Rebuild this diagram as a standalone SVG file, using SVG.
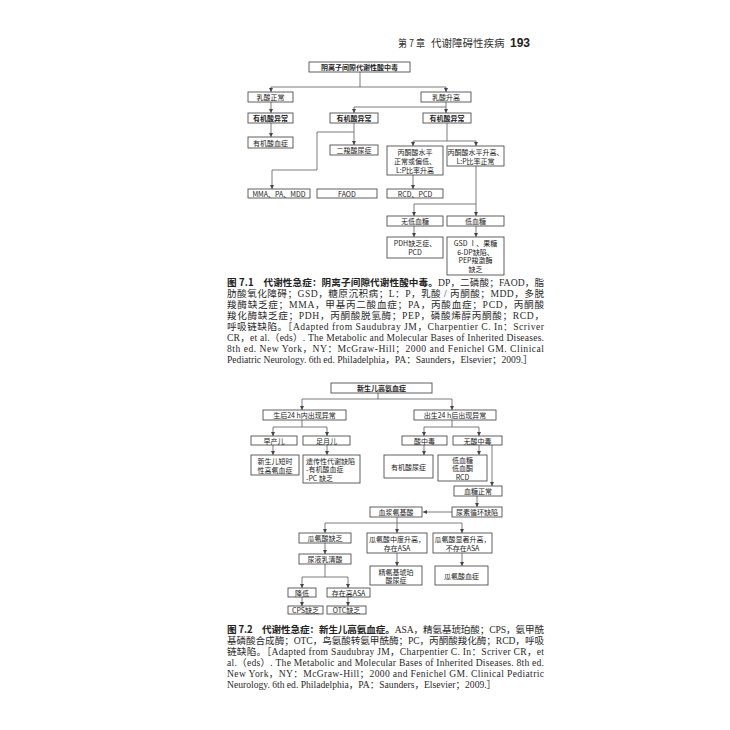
<svg xmlns="http://www.w3.org/2000/svg" width="730" height="730" viewBox="0 0 730 730">
<defs>
<marker id="ah" markerUnits="userSpaceOnUse" markerWidth="4" markerHeight="4" refX="4" refY="2" orient="auto">
<path d="M0,0 L4,2 L0,4 z" fill="#444"/>
</marker>
<style>
.box{fill:#fff;stroke:#444;stroke-width:0.85}
.ln{fill:none;stroke:#5a5a5a;stroke-width:0.8}
.ar{fill:none;stroke:#5a5a5a;stroke-width:0.8;marker-end:url(#ah)}
.t{font-family:"Noto Sans CJK SC",sans-serif;font-size:7px;fill:#222;text-anchor:middle;dominant-baseline:central}
.tb{font-weight:bold}
.tl{text-anchor:start}
.cap{font-family:"Liberation Serif","Noto Sans CJK SC",serif;font-size:9.6px;fill:#2a2a2a}
.capb{font-family:"Noto Sans CJK SC",sans-serif;font-weight:bold;fill:#222}
.hd{font-family:"Noto Sans CJK SC",sans-serif;font-size:10.5px;fill:#333}
</style>
</defs>
<rect width="730" height="730" fill="#fff"/>

<g id="header">
<text class="hd" x="398" y="47" textLength="27" lengthAdjust="spacingAndGlyphs">第 7 章</text>
<text class="hd" x="431" y="47">代谢障碍性疾病</text>
<text x="510" y="47" font-family="Liberation Sans,sans-serif" font-weight="bold" font-size="12" fill="#222">193</text>
</g>

<g id="connectors">
<!-- Fig 7.1 -->
<polyline class="ln" points="360,72 360,87"/>
<polyline class="ln" points="271,87 446,87"/>
<polyline class="ar" points="271,87 271,92"/>
<polyline class="ar" points="446,87 446,92"/>
<polyline class="ar" points="271,102 271,113"/>
<polyline class="ar" points="271,123 271,137"/>
<polyline class="ln" points="446,102 446,107 354,107"/>
<polyline class="ar" points="354,107 354,113"/>
<polyline class="ar" points="446,107 446,113"/>
<polyline class="ln" points="354,123 354,132 317,132"/>
<polyline class="ar" points="354,132 354,145"/>
<polyline class="ar" points="317,132 317,170 272,170 272,189"/>
<polyline class="ln" points="447,123 447,141"/>
<polyline class="ln" points="413,141 476,141"/>
<polyline class="ar" points="413,141 413,146"/>
<polyline class="ar" points="476,141 476,146"/>
<polyline class="ar" points="413,175 413,189"/>
<polyline class="ln" points="476,166 476,204 414,204"/>
<polyline class="ar" points="414,204 414,216"/>
<polyline class="ar" points="476,204 476,216"/>
<polyline class="ar" points="414,226 414,237"/>
<polyline class="ar" points="476,226 476,237"/>
<!-- Fig 7.2 -->
<polyline class="ln" points="378,393 378,399"/>
<polyline class="ln" points="302,399 452,399"/>
<polyline class="ar" points="302,399 302,410"/>
<polyline class="ar" points="452,399 452,410"/>
<polyline class="ln" points="302,420 302,427"/>
<polyline class="ln" points="273,427 327,427"/>
<polyline class="ar" points="273,427 273,436"/>
<polyline class="ar" points="327,427 327,436"/>
<polyline class="ar" points="273,445 273,455"/>
<polyline class="ar" points="327,445 327,455"/>
<polyline class="ln" points="452,420 452,427"/>
<polyline class="ln" points="424,427 479,427"/>
<polyline class="ar" points="424,427 424,436"/>
<polyline class="ar" points="479,427 479,436"/>
<polyline class="ar" points="424,445 424,455"/>
<polyline class="ar" points="479,445 479,455"/>
<polyline class="ar" points="492,445 492,486"/>
<polyline class="ar" points="477,496 477,507"/>
<polyline class="ar" points="452,512 423,512"/>
<polyline class="ln" points="397,517 397,523"/>
<polyline class="ln" points="325,523 462,523"/>
<polyline class="ar" points="325,523 325,533"/>
<polyline class="ar" points="397,523 397,533"/>
<polyline class="ar" points="462,523 462,533"/>
<polyline class="ar" points="325,543 325,554"/>
<polyline class="ar" points="397,553 397,566"/>
<polyline class="ar" points="462,553 462,566"/>
<polyline class="ln" points="325,564 325,577"/>
<polyline class="ln" points="302,577 348,577"/>
<polyline class="ar" points="302,577 302,588"/>
<polyline class="ar" points="348,577 348,588"/>
<polyline class="ar" points="302,597 302,606"/>
<polyline class="ar" points="348,597 348,606"/>
</g>

<!-- Fig 7.1 nodes -->
<g id="f1-root"><rect class="box" x="309" y="62" width="101" height="10"/><text class="t tb" x="359.5" y="67">阴离子间隙代谢性酸中毒</text></g>
<g id="f1-lactate-normal"><rect class="box" x="248" y="92" width="45" height="10"/><text class="t" x="270.5" y="97">乳酸正常</text></g>
<g id="f1-lactate-high"><rect class="box" x="421" y="92" width="50" height="10"/><text class="t" x="446" y="97">乳酸升高</text></g>
<g id="f1-oa1"><rect class="box" x="248" y="113" width="45" height="10"/><text class="t tb" x="270.5" y="118">有机酸异常</text></g>
<g id="f1-oaemia"><rect class="box" x="248" y="137" width="45" height="11"/><text class="t" x="270.5" y="142.5">有机酸血症</text></g>
<g id="f1-oa2"><rect class="box" x="330" y="113" width="48" height="10"/><text class="t tb" x="354" y="118">有机酸异常</text></g>
<g id="f1-oa3"><rect class="box" x="423" y="113" width="48" height="10"/><text class="t tb" x="447" y="118">有机酸异常</text></g>
<g id="f1-dca"><rect class="box" x="330" y="145" width="48" height="10"/><text class="t" x="354" y="150">二羧酸尿症</text></g>
<g id="f1-mma"><rect class="box" x="248" y="189" width="62" height="9"/><text class="t" x="279" y="193.5">MMA、PA、MDD</text></g>
<g id="f1-faod"><rect class="box" x="317" y="189" width="60" height="9"/><text class="t" x="347" y="193.5">FAOD</text></g>
<g id="f1-pyr-low"><rect class="box" x="387" y="146" width="56" height="29"/>
<text class="t" x="415" y="151.5">丙酮酸水平</text><text class="t" x="415" y="160.5">正常或偏低、</text><text class="t" x="415" y="169.5">L:P比率升高</text></g>
<g id="f1-pyr-high"><rect class="box" x="447" y="146" width="57" height="20"/>
<text class="t" x="475.5" y="151.5">丙酮酸水平升高、</text><text class="t" x="475.5" y="160.5">L:P比率正常</text></g>
<g id="f1-rcd"><rect class="box" x="387" y="189" width="56" height="9"/><text class="t" x="415" y="193.5">RCD、PCD</text></g>
<g id="f1-nohypo"><rect class="box" x="387" y="216" width="56" height="10"/><text class="t" x="415" y="221">无低血糖</text></g>
<g id="f1-hypo"><rect class="box" x="447" y="216" width="57" height="10"/><text class="t" x="475.5" y="221">低血糖</text></g>
<g id="f1-pdh"><rect class="box" x="387" y="237" width="56" height="21"/>
<text class="t" x="415" y="243">PDH缺乏症、</text><text class="t" x="415" y="251.5">PCD</text></g>
<g id="f1-gsd"><rect class="box" x="447" y="237" width="57" height="38"/>
<text class="t" x="475.5" y="243">GSD Ⅰ、果糖</text><text class="t" x="475.5" y="251.5">6-DP缺陷、</text><text class="t" x="475.5" y="260">PEP羧激酶</text><text class="t" x="475.5" y="268.5">缺乏</text></g>

<g id="caption-7-1" class="cap">
<text x="227" y="286" textLength="317" lengthAdjust="spacing"><tspan class="capb">图 7.1　代谢性急症：阴离子间隙代谢性酸中毒。</tspan>DP，二磷酸；FAOD，脂</text>
<text x="227" y="297" textLength="317" lengthAdjust="spacing">肪酸氧化障碍；GSD，糖原沉积病；L：P，乳酸 / 丙酮酸；MDD，多脱</text>
<text x="227" y="308" textLength="317" lengthAdjust="spacing">羧酶缺乏症；MMA，甲基丙二酸血症；PA，丙酸血症；PCD，丙酮酸</text>
<text x="227" y="319" textLength="317" lengthAdjust="spacing">羧化酶缺乏症；PDH，丙酮酸脱氢酶；PEP，磷酸烯醇丙酮酸；RCD，</text>
<text x="227" y="330" textLength="317" lengthAdjust="spacing">呼吸链缺陷。［Adapted from Saudubray JM，Charpentier C. In：Scriver</text>
<text x="227" y="341" textLength="317" lengthAdjust="spacing">CR，et al.（eds）. The Metabolic and Molecular Bases of Inherited Diseases.</text>
<text x="227" y="352" textLength="317" lengthAdjust="spacing">8th ed. New York，NY：McGraw-Hill；2000 and Fenichel GM. Clinical</text>
<text x="227" y="363">Pediatric Neurology. 6th ed. Philadelphia，PA：Saunders，Elsevier；2009.］</text>
</g>

<!-- Fig 7.2 nodes -->
<g id="f2-root"><rect class="box" x="331" y="383" width="101" height="10"/><text class="t tb" x="381.5" y="388">新生儿高氨血症</text></g>
<g id="f2-within24"><rect class="box" x="263" y="410" width="83" height="10"/><text class="t" x="304.5" y="415">生后24 h内出现异常</text></g>
<g id="f2-after24"><rect class="box" x="414" y="410" width="82" height="10"/><text class="t" x="455" y="415">出生24 h后出现异常</text></g>
<g id="f2-preterm"><rect class="box" x="251" y="436" width="46" height="9"/><text class="t" x="274" y="440.5">早产儿</text></g>
<g id="f2-term"><rect class="box" x="303" y="436" width="47" height="9"/><text class="t" x="326.5" y="440.5">足月儿</text></g>
<g id="f2-thn"><rect class="box" x="251" y="455" width="48" height="20"/>
<text class="t" x="275" y="460.5">新生儿短时</text><text class="t" x="275" y="469.5">性高氨血症</text></g>
<g id="f2-iem"><rect class="box" x="303" y="455" width="57" height="28"/>
<text class="t tl" x="306" y="460.5">遗传性代谢缺陷</text><text class="t tl" x="306" y="469">-有机酸血症</text><text class="t tl" x="306" y="477.5">-PC 缺乏</text></g>
<g id="f2-acid"><rect class="box" x="402" y="436" width="45" height="9"/><text class="t" x="424.5" y="440.5">酸中毒</text></g>
<g id="f2-noacid"><rect class="box" x="453" y="436" width="49" height="9"/><text class="t" x="477.5" y="440.5">无酸中毒</text></g>
<g id="f2-oau"><rect class="box" x="384" y="455" width="49" height="23"/><text class="t" x="408.5" y="466.5">有机酸尿症</text></g>
<g id="f2-hypo"><rect class="box" x="438" y="455" width="49" height="26"/>
<text class="t" x="462.5" y="459.5">低血糖</text><text class="t" x="462.5" y="468">低血酮</text><text class="t" x="462.5" y="476.5">RCD</text></g>
<g id="f2-normoglyc"><rect class="box" x="454" y="486" width="48" height="10"/><text class="t" x="478" y="491">血糖正常</text></g>
<g id="f2-ucd"><rect class="box" x="452" y="507" width="50" height="10"/><text class="t" x="477" y="512">尿素循环缺陷</text></g>
<g id="f2-paa"><rect class="box" x="370" y="507" width="52" height="10"/><text class="t" x="396" y="512">血浆氨基酸</text></g>
<g id="f2-cit-low"><rect class="box" x="299" y="533" width="52" height="10"/><text class="t" x="325" y="538">瓜氨酸缺乏</text></g>
<g id="f2-cit-mod"><rect class="box" x="367" y="533" width="60" height="20"/>
<text class="t" x="397" y="538.5">瓜氨酸中度升高，</text><text class="t" x="397" y="547.5">存在ASA</text></g>
<g id="f2-cit-high"><rect class="box" x="433" y="533" width="59" height="20"/>
<text class="t" x="462.5" y="538.5">瓜氨酸显著升高，</text><text class="t" x="462.5" y="547.5">不存在ASA</text></g>
<g id="f2-orotic"><rect class="box" x="299" y="554" width="52" height="10"/><text class="t" x="325" y="559">尿液乳清酸</text></g>
<g id="f2-asa"><rect class="box" x="370" y="566" width="52" height="19"/>
<text class="t" x="396" y="571.5">精氨基琥珀</text><text class="t" x="396" y="580">酸尿症</text></g>
<g id="f2-citemia"><rect class="box" x="435" y="566" width="53" height="19"/><text class="t" x="461.5" y="575.5">瓜氨酸血症</text></g>
<g id="f2-low"><rect class="box" x="288" y="588" width="28" height="9"/><text class="t" x="302" y="592.5">降低</text></g>
<g id="f2-highasa"><rect class="box" x="327" y="588" width="43" height="9"/><text class="t" x="348.5" y="592.5">存在高ASA</text></g>
<g id="f2-cps"><rect class="box" x="288" y="606" width="35" height="8"/><text class="t" x="305.5" y="610">CPS缺乏</text></g>
<g id="f2-otc"><rect class="box" x="327" y="606" width="39" height="8"/><text class="t" x="346.5" y="610">OTC缺乏</text></g>

<g id="caption-7-2" class="cap">
<text x="227" y="633" textLength="317" lengthAdjust="spacing"><tspan class="capb">图 7.2　代谢性急症：新生儿高氨血症。</tspan>ASA，精氨基琥珀酸；CPS，氨甲酰</text>
<text x="227" y="644" textLength="317" lengthAdjust="spacing">基磷酸合成酶；OTC，鸟氨酸转氨甲酰酶；PC，丙酮酸羧化酶；RCD，呼吸</text>
<text x="227" y="655" textLength="317" lengthAdjust="spacing">链缺陷。［Adapted from Saudubray JM，Charpentier C. In：Scriver CR，et</text>
<text x="227" y="666" textLength="317" lengthAdjust="spacing">al.（eds）. The Metabolic and Molecular Bases of Inherited Diseases. 8th ed.</text>
<text x="227" y="677" textLength="317" lengthAdjust="spacing">New York，NY：McGraw-Hill；2000 and Fenichel GM. Clinical Pediatric</text>
<text x="227" y="688">Neurology. 6th ed. Philadelphia，PA：Saunders，Elsevier；2009.］</text>
</g>
</svg>
